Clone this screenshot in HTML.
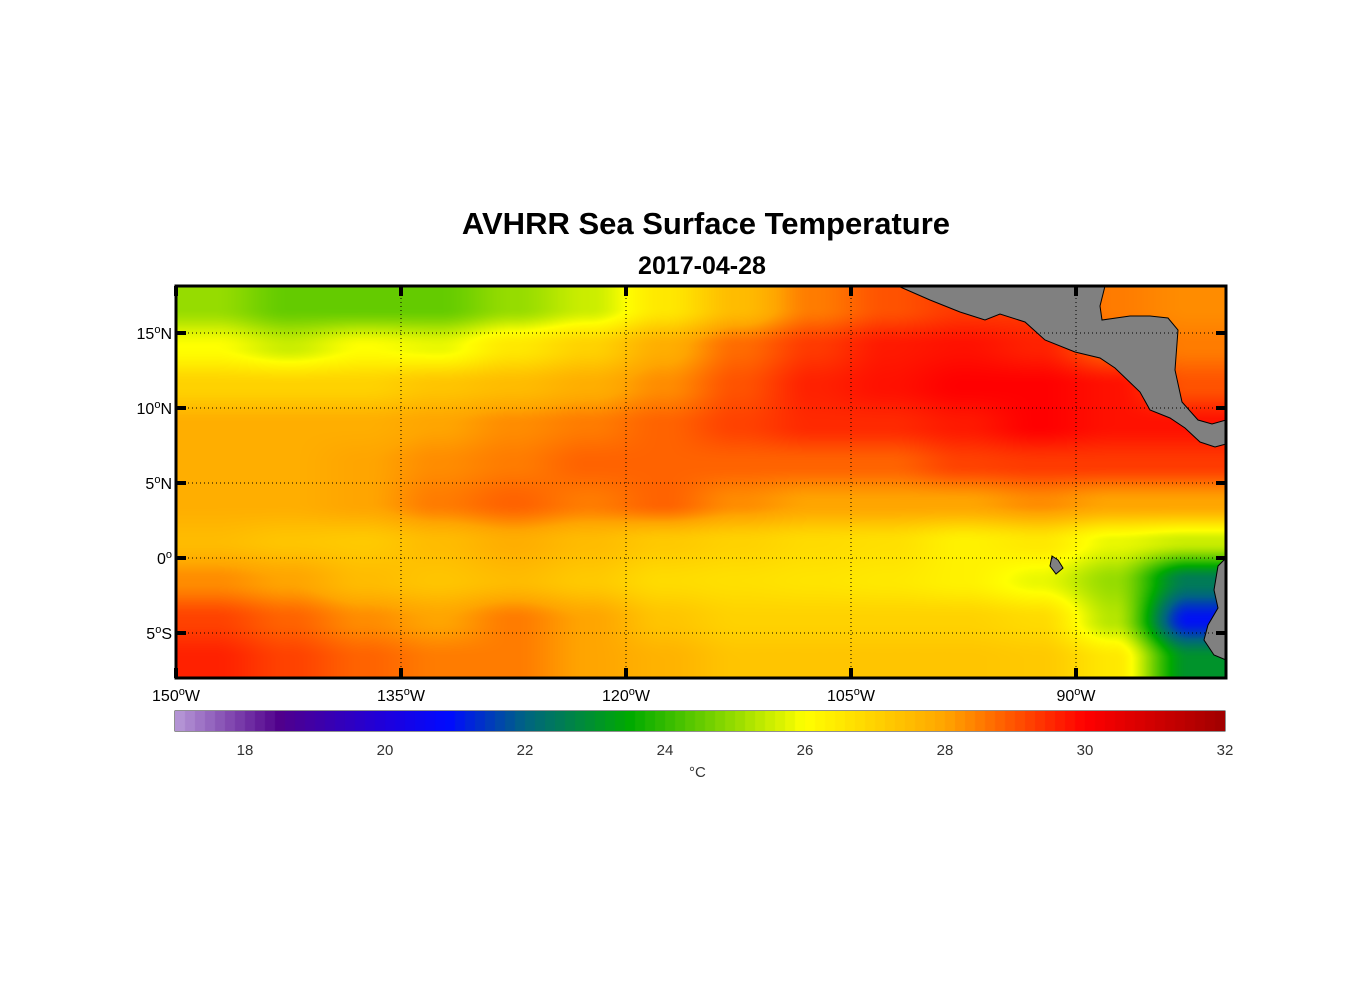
<!DOCTYPE html>
<html><head><meta charset="utf-8"><style>
body{margin:0;background:#fff;width:1356px;height:1000px;position:relative;font-family:"Liberation Sans",sans-serif;overflow:hidden}
.t{position:absolute;white-space:nowrap}
</style></head><body>
<div class="t" style="left:0;width:1412px;text-align:center;top:206px;font-size:31px;font-weight:bold">AVHRR Sea Surface Temperature</div>
<div class="t" style="left:0;width:1404px;text-align:center;top:252px;font-size:25px;font-weight:bold">2017-04-28</div>
<canvas id="map" width="1050" height="392" style="position:absolute;left:176px;top:286px"></canvas>
<svg id="ov" width="1356" height="1000" style="position:absolute;left:0;top:0"></svg>
<canvas id="cb" width="1050" height="20" style="position:absolute;left:175px;top:711px"></canvas>
<div class="t" style="left:689px;top:764px;font-size:15px;color:#333">°C</div>
<script>
const lonCenters=[-147.5,-142.5,-137.5,-132.5,-127.5,-122.5,-117.5,-112.5,-107.5,-102.5,-97.5,-92.5,-87.5,-82.5];
const latCenters=[16.7,14.1,11.5,8.9,6.3,3.7,1.1,-1.5,-4.1,-6.7];
const sst=[
[25,24.5,24.5,24.5,25,25.5,26.5,27.5,28.5,29,29.3,29.3,28.5,28.3],
[26,25.5,26,25.8,26.5,27,27.8,28.7,29.3,29.7,29.8,29.6,28.8,28.5],
[27,27,27,27.3,27.5,27.8,28.3,29,29.6,29.8,30,30,29.8,29],
[27.8,27.8,27.8,28,28.3,28.5,28.8,29.2,29.5,29.5,29.7,30,29.8,29.8],
[27.8,27.8,28,28.3,28.5,28.8,28.8,28.8,28.8,28.8,29.2,29.3,29.3,29.3],
[27.8,27.8,28,28.5,28.8,28.5,28.8,28.3,28,28,28,28.3,28,28],
[27.5,27.3,27.2,27.5,27.8,27.5,27.2,27,26.8,26.7,26.3,26.5,25.8,25.5],
[28.3,28,27.5,27.3,27.5,27.2,26.8,26.7,26.6,26.5,26.3,25.8,25,22.5],
[29.2,28.8,28.3,28,28.5,28,27.3,27,27,27,27,26.8,25.3,21],
[29.6,29.2,28.8,28.5,28.5,28,27.7,27.3,27.3,27.3,27.3,27.2,26.5,23]];
const cbTicks=[18,20,22,24,26,28,30,32];
const lonTicks=[-150,-135,-120,-105,-90];
const latTicks=[15,10,5,0,-5];
const stops=[[17,[184,154,216]],[18.5,[80,0,140]],[20,[30,0,220]],[20.9,[0,10,255]],[22,[0,100,130]],[23.5,[0,170,0]],[25,[150,220,0]],[26,[255,255,0]],[28,[255,165,0]],[30,[255,0,0]],[32,[160,0,0]]];
function cmap(v){if(v<=stops[0][0])return stops[0][1];for(let i=1;i<stops.length;i++){if(v<=stops[i][0]){const a=stops[i-1],b=stops[i],t=(v-a[0])/(b[0]-a[0]);return a[1].map((c,k)=>Math.round(c+(b[1][k]-c)*t));}}return stops[stops.length-1][1];}
const X=lon=>176+(lon+150)*15, Y=lat=>558-lat*15;
function interp(lon,lat){
 let fi=(lon-lonCenters[0])/5; fi=Math.max(0,Math.min(lonCenters.length-1.0001,fi));
 let fj=(latCenters[0]-lat)/2.6; fj=Math.max(0,Math.min(latCenters.length-1.0001,fj));
 const i=Math.floor(fi),j=Math.floor(fj),u=fi-i,w=fj-j;
 const su=u*u*(3-2*u),sw=w*w*(3-2*w);
 return (sst[j][i]*(1-su)+sst[j][i+1]*su)*(1-sw)+(sst[j+1][i]*(1-su)+sst[j+1][i+1]*su)*sw;}
const c=document.getElementById('map').getContext('2d');const img=c.createImageData(1050,392);
for(let y=0;y<392;y++)for(let x=0;x<1050;x++){const lon=-150+x/15,lat=(558-286-y)/15;const col=cmap(interp(lon,lat));const p=(y*1050+x)*4;img.data[p]=col[0];img.data[p+1]=col[1];img.data[p+2]=col[2];img.data[p+3]=255;}
c.putImageData(img,0,0);
const cb=document.getElementById('cb').getContext('2d');
for(let x=0;x<1050;x+=10){const v=17+(x+5)/70;const col=cmap(v);cb.fillStyle=`rgb(${col})`;cb.fillRect(x,0,10,20);}
const ov=document.getElementById('ov');const NS='http://www.w3.org/2000/svg';
function add(tag,attrs,name,txt){const e=document.createElementNS(NS,tag);for(const k in attrs)e.setAttribute(k,attrs[k]);


if(txt!==undefined)e.innerHTML=txt;ov.appendChild(e);return e;}
const land1=[[898,286],[930,300],[960,312],[985,320],[1000,314],[1025,322],[1045,340],[1075,352],[1100,358],[1115,368],[1140,392],[1150,410],[1170,418],[1185,428],[1200,442],[1215,447],[1226,444],[1226,420],[1212,424],[1198,420],[1182,402],[1175,370],[1178,330],[1168,318],[1150,316],[1130,316],[1102,320],[1100,306],[1105,286]];
const land2=[[1226,558],[1218,566],[1214,590],[1218,608],[1208,625],[1204,640],[1214,655],[1226,660]];
const land3=[[1052,556],[1058,560],[1063,568],[1056,574],[1050,566]];
[land1,land2,land3].forEach((L,k)=>add('polygon',{points:L.map(p=>p.join(',')).join(' '),fill:'#808080',stroke:'#000','stroke-width':1},'land-'+k));
lonTicks.forEach(l=>{const x=X(l);add('line',{x1:x,x2:x,y1:286,y2:678,stroke:'#000','stroke-dasharray':'1,3','stroke-width':1},'grid-lon');
add('line',{x1:x,x2:x,y1:286,y2:296,stroke:'#000','stroke-width':4},'tick-top');add('line',{x1:x,x2:x,y1:668,y2:678,stroke:'#000','stroke-width':4},'tick-bottom');
add('text',{x:x,y:701,'font-size':16,'text-anchor':'middle','font-family':'Liberation Sans'},'lon-label',`${-l}<tspan dy="-6" font-size="11">o</tspan><tspan dy="6">W</tspan>`);});
latTicks.forEach(l=>{const y=Y(l);add('line',{x1:176,x2:1226,y1:y,y2:y,stroke:'#000','stroke-dasharray':'1,3','stroke-width':1},'grid-lat');
add('line',{x1:176,x2:186,y1:y,y2:y,stroke:'#000','stroke-width':4},'tick-left');add('line',{x1:1216,x2:1226,y1:y,y2:y,stroke:'#000','stroke-width':4},'tick-right');
const s=l>0?'N':(l<0?'S':'');add('text',{x:172,y:y+6,'font-size':16,'text-anchor':'end','font-family':'Liberation Sans'},'lat-label',`${Math.abs(l)}<tspan dy="-6" font-size="11">o</tspan><tspan dy="6">${s}</tspan>`);});
add('rect',{x:176,y:286,width:1050,height:392,fill:'none',stroke:'#000','stroke-width':3},'map-frame');
add('rect',{x:175,y:711,width:1050,height:20,fill:'none',stroke:'#222','stroke-width':1},'colorbar-frame');
cbTicks.forEach(v=>{const x=175+(v-17)*70;add('line',{x1:x,x2:x,y1:721,y2:731,stroke:'#222'},'colorbar-tick');
add('text',{x:x,y:755,'font-size':15,'text-anchor':'middle',fill:'#333','font-family':'Liberation Sans'},'colorbar-label',v);});
</script>
</body></html>
